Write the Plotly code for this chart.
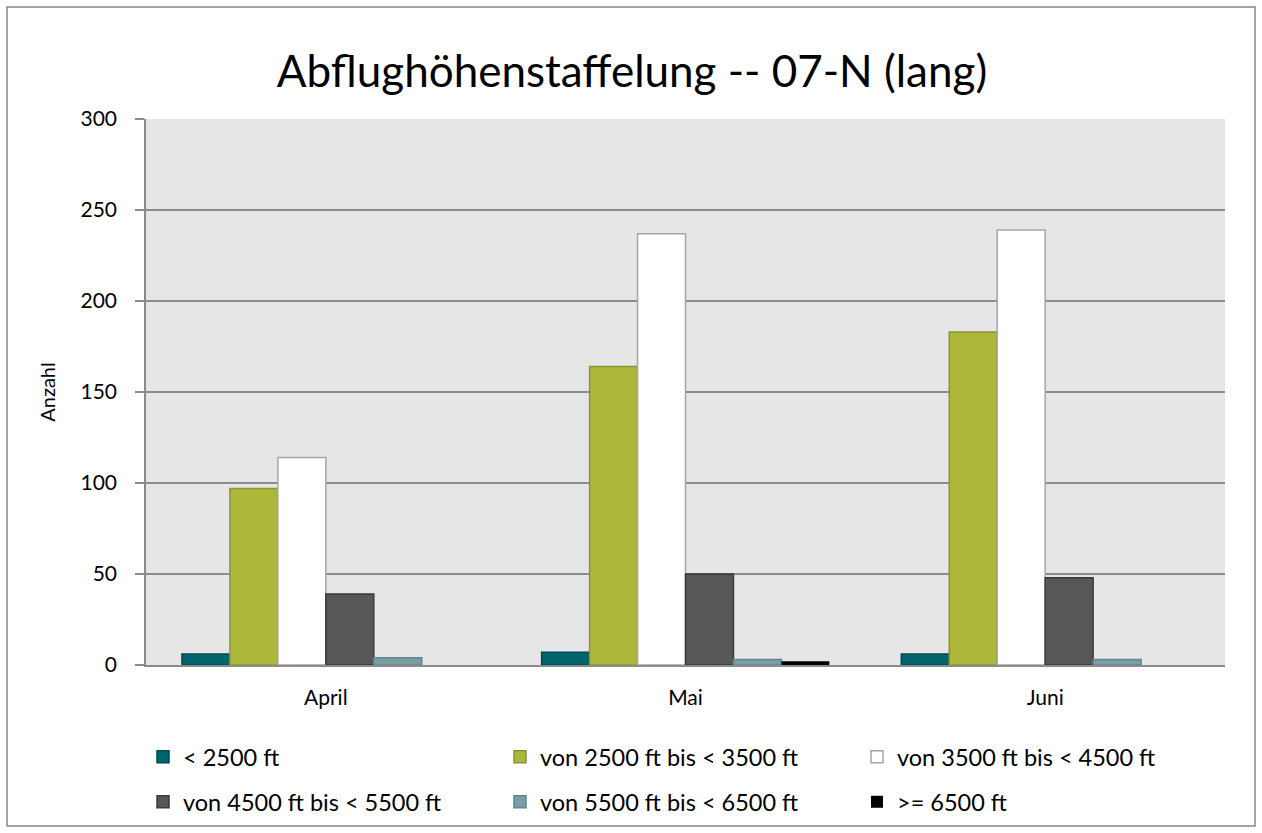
import plotly.graph_objects as go

months = ["April", "Mai", "Juni"]
series_names = [
    "< 2500 ft",
    "von 2500 ft bis < 3500 ft",
    "von 3500 ft bis < 4500 ft",
    "von 4500 ft bis < 5500 ft",
    "von 5500 ft bis < 6500 ft",
    ">= 6500 ft",
]
v_lt2500 = [6, 7, 6]
v_2500_3500 = [97, 164, 183]
v_3500_4500 = [114, 237, 239]
v_4500_5500 = [39, 50, 48]
v_5500_6500 = [4, 3, 3]
v_ge6500 = [0, 2, 0]
values = [v_lt2500, v_2500_3500, v_3500_4500, v_4500_5500, v_5500_6500, v_ge6500]

fills = ["#00646F", "#ADB73A", "#FFFFFF", "#575757", "#7A9EA6", "#000000"]
edges = ["#004A52", "#8C9530", "#A6A6A6", "#3A3A3A", "#5F8790", "#000000"]
edge_w = [1.5, 1.5, 1.5, 1.5, 1.5, 0]
legend_ids = ["legend", "legend", "legend", "legend2", "legend2", "legend2"]

W, H = 1262, 833
L, R, T, B = 146, 1225, 119, 665
pw, ph = R - L, B - T

def px_x(x):
    return (x - L) / pw

def px_y(y):
    return (B - y) / ph

FONT = "Lato"

fig = go.Figure()
for name, vals, fc, ec, ew, lg in zip(series_names, values, fills, edges, edge_w, legend_ids):
    fig.add_trace(go.Bar(
        x=months, y=vals, name=name,
        marker=dict(color=fc, line=dict(color=ec, width=ew)),
        legend=lg,
    ))

leg_common = dict(
    orientation="h", xanchor="left", yanchor="middle",
    font=dict(family=FONT, size=23.5, color="#000000"),
    entrywidth=312, entrywidthmode="pixels",
    bgcolor="rgba(0,0,0,0)", traceorder="normal",
)

fig.update_layout(
    width=W, height=H,
    margin=dict(l=L, r=W - R, t=T, b=H - B, autoexpand=False),
    paper_bgcolor="#FFFFFF",
    plot_bgcolor="#E6E6E6",
    barmode="group", bargap=0.2, bargroupgap=0,
    title=dict(text="Abflughöhenstaffelung -- 07-N (lang)",
               x=632 / W, xref="container", xanchor="center",
               y=1 - 72 / H, yref="container", yanchor="middle",
               font=dict(family=FONT, size=44, color="#000000")),
    font=dict(family=FONT, color="#000000"),
    showlegend=True,
    legend=dict(x=px_x(143), y=px_y(757), **leg_common),
    legend2=dict(x=px_x(143), y=px_y(802), **leg_common),
    xaxis=dict(
        showgrid=False, showline=True, linecolor="#8C8C8C", linewidth=1.5,
        ticks="outside", ticklen=13, tickcolor="rgba(0,0,0,0)",
        tickfont=dict(family=FONT, size=21, color="#000000"),
    ),
    yaxis=dict(
        range=[0, 300], dtick=50, tick0=0,
        showgrid=True, gridcolor="#8C8C8C", gridwidth=1.5,
        showline=True, linecolor="#8C8C8C", linewidth=1.5,
        ticks="outside", ticklen=9, tickcolor="#8C8C8C", tickwidth=1.5,
        ticklabelstandoff=14,
        tickfont=dict(family=FONT, size=21, color="#000000"),
        zeroline=False,
        title=dict(text="Anzahl", font=dict(family=FONT, size=20, color="#000000"), standoff=20),
    ),
    shapes=[dict(
        type="rect", xref="paper", yref="paper",
        x0=px_x(7), x1=px_x(1255), y0=px_y(826), y1=px_y(7),
        line=dict(color="#868686", width=1.5), fillcolor="rgba(0,0,0,0)",
        layer="below",
    )],
)

fig.write_html(
    "out.html",
    config={"displayModeBar": False},
    post_script="document.body.style.margin='0';document.body.style.overflow='hidden';",
)
